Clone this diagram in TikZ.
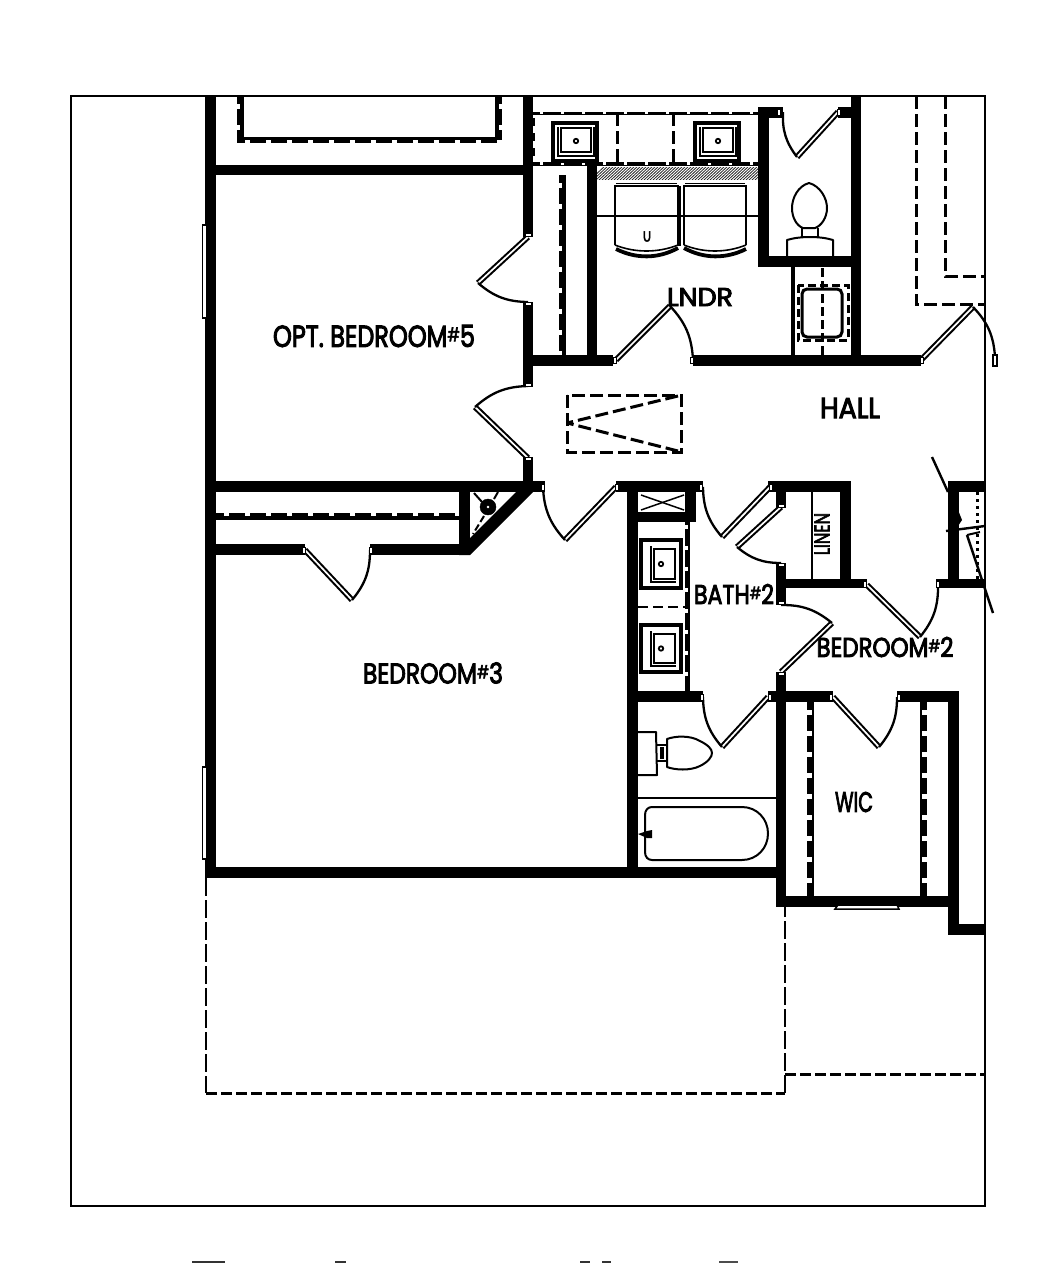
\documentclass[tikz,border=0pt]{standalone}
\usepackage{graphicx}
\usepackage{fontspec}
\setmainfont{Poppins}
\newfontfamily\cad[FakeBold=3.5]{Poppins}
\tikzset{
  x=1pt,y=-1pt,
  framestyle/.style={line width=2.8pt,draw=black},
  dashthin/.style={line width=2.2pt,dash pattern=on 18pt off 4pt,draw=black},
  dashwide/.style={line width=3pt,dash pattern=on 11pt off 4pt,draw=black},
  dashmid/.style={line width=3pt,dash pattern=on 13pt off 5pt,draw=black},
  fixture/.style={line width=2pt,draw=black,line join=round},
  label/.style={inner sep=0pt,outer sep=0pt,text=black}
}
\newcommand\wl[4]{\fill[black] (#1,#2) rectangle (#3,#4);}
\newcommand\jh[2]{\filldraw[fill=white,draw=black,line width=.6pt] (#1-1.3,#2-3) rectangle (#1+1.3,#2+3);}
\newcommand\jv[2]{\filldraw[fill=white,draw=black,line width=.6pt] (#1-3,#2-1.3) rectangle (#1+3,#2+1.3);}
% hinge, tip, end, bend
\newcommand\door[7]{%
  \draw[line width=5.8pt,black] (#1,#2)--(#3,#4);
  \draw[line width=1.7pt,white] (#1,#2)--(#3,#4);
  \draw[line width=2.3pt,black] (#3,#4) to[#7=20] (#5,#6);}
\newcommand\shelfv[6]{\fill[black] (#1,#3) rectangle (#2,#4);
  \draw[white,line width=#6pt,dash pattern=on 5pt off 16pt,dash phase=-8pt] (#5,#3)--(#5,#4);}
\newcommand\shelfh[6]{\fill[black] (#1,#3) rectangle (#2,#4);
  \draw[white,line width=#6pt,dash pattern=on 5pt off 16pt,dash phase=-8pt] (#1,#5)--(#2,#5);}
\newcommand\hsink[4]{%
  \draw[line width=3.6pt] (#1,#2) rectangle (#3,#4);
  \draw[line width=1.7pt] (#1+8,#2+5) rectangle (#3-6,#4-9);
  \draw[line width=1.4pt] (#1+5,#2+4)--(#1+5,#4-5)--(#3-3,#4-5)--(#3-3,#2+4);
  \filldraw[fill=white,draw=black,line width=1.8pt] ({(#1+#3)/2+1},{(#2+#4)/2-1}) circle (2.2);}
\newcommand\vsink[4]{%
  \draw[line width=3.6pt] (#1,#2) rectangle (#3,#4);
  \draw[line width=1.7pt] (#1+13,#2+9) rectangle (#3-6,#4-9);
  \draw[line width=1.4pt] (#1+10,#2+6)--(#1+10,#4-6)--(#3-5,#4-6);
  \filldraw[fill=white,draw=black,line width=1.8pt] ({(#1+#3)/2},{(#2+#4)/2}) circle (2.2);}
\newcommand\hash{\raisebox{.33ex}{\scalebox{.62}[.62]{\#}}}
\newcommand\lab[5]{\node[label] (#1) at (#2) {\resizebox{#3pt}{#4pt}{\cad #5}};}
\begin{document}
\begin{tikzpicture}
\useasboundingbox (0,0) rectangle (1043,1263);
\fill[white] (0,0) rectangle (1043,1263);
% outer dashed outlines
\draw[dashthin] (206,878)--(206,1093);
\draw[dashwide] (206,1093)--(785,1093);
\draw[dashthin] (785,1093)--(785,907);
\draw[dashwide] (785,1074)--(985,1074);
\draw[dashmid] (916,96)--(916,304)--(985,304);
\draw[dashmid] (945,96)--(945,276)--(985,276);
% main walls
\wl{205}{96}{216}{878}
\wl{205}{165}{533}{175}
\wl{523}{96}{533}{237}
\wl{523}{302}{533}{387}
\wl{523}{457}{533}{492}
\wl{205}{481}{545}{492}
\wl{205}{867}{776}{878}
\wl{216}{544}{305}{555}
\wl{370}{544}{470}{555}
\wl{459}{492}{470}{555}
\fill[black] (459,555)--(470,555)--(533,492)--(533,482)--(516,492)--(470,538)--cycle;
\wl{533}{355}{613}{366}
\wl{693}{355}{921}{366}
\wl{587}{165}{597}{366}
\wl{758}{107}{769}{267}
\wl{758}{107}{783}{118}
\wl{838}{107}{852}{118}
\wl{851}{96}{861}{366}
\wl{758}{256}{851}{267}
\wl{791}{267}{795}{355}
\wl{616}{481}{703}{492}
\wl{768}{481}{851}{492}
\wl{840}{481}{851}{588}
\wl{776}{492}{786}{508}
\wl{776}{563}{786}{605}
\wl{776}{579}{867}{588}
\wl{936}{579}{985}{588}
\wl{948}{481}{959}{579}
\wl{948}{481}{985}{492}
\wl{627}{481}{638}{878}
\wl{638}{512}{696}{522}
\wl{685}{492}{696}{522}
\wl{627}{691}{703}{702}
\wl{768}{691}{833}{702}
\wl{897}{691}{959}{702}
\wl{776}{672}{786}{907}
\wl{776}{896}{959}{907}
\wl{948}{691}{959}{935}
\wl{948}{924}{985}{935}
\wl{685}{522}{690}{691}
\draw[line width=2pt] (812,492)--(812,579);
\draw[line width=2pt] (638,798)--(776,798);
% hatch band
\wl{533}{162}{758}{166}
\begin{scope}
\clip (597,167) rectangle (758,179);
\foreach \i in {0,3,...,180} {\draw[line width=.8pt,black!85] (590+\i,180)--(606+\i,165);}
\end{scope}
% vanity top
\draw[line width=3pt,black] (533,113)--(758,113);
\draw[white,line width=3.4pt,dash pattern=on 3pt off 18pt] (540,112)--(758,112);
\draw[dashmid] (617,113)--(617,163);
\draw[dashmid] (673,113)--(673,163);
\draw[white,line width=3pt,dash pattern=on 3pt off 18pt] (540,163.5)--(758,163.5);
\draw[line width=2.5pt,dash pattern=on 8pt off 7pt,black] (534,118)--(534,160);
\hsink{553}{123}{597}{161}
\hsink{695}{123}{739}{161}
% closet shelves
\shelfv{559}{566}{175}{355}{560.5}{3.4}
\shelfv{807}{814}{702}{896}{809.5}{5}
\shelfv{920}{927}{702}{896}{924.5}{5}
\shelfh{216}{459}{513}{520}{514.5}{3.4}
\shelfv{237}{244}{96}{143}{238.5}{3.4}
\shelfv{495}{502}{96}{143}{500.5}{3.4}
\shelfh{237}{502}{137}{143}{141.5}{3}
% bath vanity
\draw[white,line width=3pt,dash pattern=on 4pt off 17pt] (686.5,525)--(686.5,690);
\draw[line width=2.2pt,dash pattern=on 10pt off 5pt,black] (638,607)--(686,607);
\vsink{641}{540}{681}{588}
\vsink{641}{625}{681}{672}
\draw[line width=1.5pt] (641,495)--(684,510);
\draw[line width=1.5pt] (641,510)--(684,495);
% water heater corner
\filldraw[black] (488,507) circle (8);
\filldraw[white] (488,507) circle (1);
\draw[line width=2pt] (474,493)--(482,502);
\draw[line width=2pt] (498,492)--(494,499);
\draw[line width=2pt,dash pattern=on 7pt off 3pt] (484,516)--(473,534);
% small rear closet
\draw[line width=3pt,dash pattern=on 3pt off 4pt] (977,492)--(977,579);
% hall loft stair
\draw[dashmid] (567,395) rectangle (681,452);
\draw[dashmid,line join=bevel] (678,396)--(567,423)--(678,451);
% washer and dryer
\draw[line width=2pt] (597,216)--(758,216);
\draw[line width=2.2pt] (615,245)--(615,186)--(678,186)--(678,245);
\draw[line width=1.4pt] (616,183.5)--(677,183.5);
\draw[line width=2.2pt] (684,245)--(684,186)--(746,186)--(746,245);
\draw[line width=1.4pt] (685,183.5)--(745,183.5);
\draw[line width=3pt] (679,186)--(679,246);
\draw[line width=1.6pt] (615,245) .. controls (635,253) and (658,253) .. (678,245);
\draw[line width=3.8pt] (616,249) .. controls (636,259) and (658,259) .. (678,248);
\draw[line width=1.6pt] (684,245) .. controls (704,253) and (726,253) .. (746,245);
\draw[line width=3.8pt] (684,248) .. controls (704,259) and (726,259) .. (746,249);
\node[label] (wm) at (647,236.5) {\resizebox{8pt}{10pt}{\cad U}};
% upper toilet
\draw[fixture] (809,183) .. controls (820,186) and (827,198) .. (827,208) .. controls (827,218) and (821,226) .. (815,228) -- (803,228) .. controls (797,226) and (792,218) .. (792,208) .. controls (792,198) and (798,186) .. (809,183) -- cycle;
\draw[fixture] (802,228)--(802,237);
\draw[fixture] (818,228)--(818,237);
\draw[fixture] (787,256)--(787,240) .. controls (800,236) and (820,236) .. (833,240) -- (833,256);
% lower toilet
\draw[fixture] (638,732)--(656,732)--(657,775)--(638,775);
\draw[fixture] (667,739) .. controls (675,736) and (690,735) .. (700,741) .. controls (708,745) and (712,749) .. (712,753) .. controls (712,757) and (708,762) .. (700,766) .. controls (690,771) and (675,770) .. (667,767) -- cycle;
\draw[fixture] (657,745)--(667,745);
\draw[fixture] (657,761)--(667,761);
\fill[black] (660,747) rectangle (664,759);
% tub
\draw[fixture] (652,807) -- (742,807) .. controls (757,807) and (768,819) .. (768,833.5) .. controls (768,848) and (757,860) .. (742,860) -- (652,860) .. controls (648,860) and (645,857) .. (645,852) -- (645,815) .. controls (645,810) and (648,807) .. (652,807) -- cycle;
\fill[black] (638,834)--(647,831)--(652,830)--(652,838)--(647,838)--cycle;
% WIC window
\filldraw[fill=white,draw=black,line width=1.5pt] (838,905)--(897,905)--(899,909)--(835,909)--cycle;
% chase
\draw[line width=3pt,dash pattern=on 8pt off 4pt] (798,285) rectangle (848,340);
\draw[line width=3pt,rounded corners=5pt] (802,289) rectangle (842,337);
\draw[line width=3pt,dash pattern=on 9pt off 4pt] (822,268)--(822,355);
% doors
\door{528}{237}{478}{283}{528}{302}{bend right}
\door{528}{458}{475}{407}{528}{386}{bend left}
\door{616}{360}{670}{306}{693}{360}{bend left}
\door{921}{360}{973}{307}{995}{357}{bend left}
\door{838}{112}{797}{157}{783}{112}{bend left}
\door{616}{487}{565}{540}{543}{487}{bend left}
\door{770}{487}{722}{537}{703}{487}{bend left}
\door{781}{507}{737}{547}{781}{563}{bend right}
\door{867}{585}{920}{637}{938}{585}{bend right}
\door{781}{672}{832}{623}{781}{605}{bend right}
\door{768}{697}{722}{747}{703}{697}{bend left}
\door{833}{697}{879}{747}{897}{697}{bend right}
\door{305}{550}{352}{600}{370}{550}{bend right}
% jambs
\jv{528}{235}\jv{528}{304}\jv{528}{385}\jv{528}{459}
\jh{543}{487}\jh{617}{487}\jh{701}{487}\jh{771}{487}
\jv{781}{506}\jv{781}{565}\jv{781}{603}\jv{781}{674}
\jh{865}{584}\jh{938}{584}
\jh{702}{697}\jh{770}{697}\jh{831}{697}\jh{899}{697}
\jh{304}{550}\jh{371}{550}
\jh{615}{360}\jh{692}{360}\jh{922}{360}
\jh{779}{112}\jh{839}{112}
\filldraw[fill=white,draw=black,line width=1.6pt] (993,355) rectangle (997,366);
% windows
\filldraw[fill=white,draw=black,line width=1.5pt] (202.5,225) rectangle (206.5,318);
\filldraw[fill=white,draw=black,line width=1.5pt] (202.5,767) rectangle (206.5,859);
% frame
\draw[framestyle] (71,96) rectangle (985,1206);
\draw[line width=1pt] (71,1206.5)--(985,1206.5);
% rear closet door lines
\draw[line width=2.4pt] (932,457)--(948,492);
\draw[line width=2.4pt] (946,531)--(985,526);
\draw[line width=2pt] (980,532)--(967,535);
\draw[line width=2.4pt] (967,535)--(993,613);
\fill[black] (958,510)--(962,520)--(958,526)--cycle;
% labels
\lab{bed5}{374,336}{202}{22}{OPT. BEDROOM\hash 5}
\lab{lndr}{700,297}{66}{18}{LNDR}
\lab{hall}{850,408}{60}{20}{HALL}
\lab{bed3}{433,673}{140}{21}{BEDROOM\hash 3}
\lab{bath2}{734,594}{80}{20}{BATH\hash 2}
\lab{bed2}{885,647}{137}{20}{BEDROOM\hash 2}
\lab{wic}{854,802}{38}{20}{WIC}
\node[label,rotate=90] (linen) at (822,534) {\resizebox{42pt}{15pt}{\cad LINEN}};
% cut-off letter tops at the page edge
\fill[black!80] (192,1261) rectangle (225,1263);
\fill[black!80] (335,1261) rectangle (346,1263);
\fill[black!80] (580,1261) rectangle (590,1263);
\fill[black!80] (602,1261) rectangle (611,1263);
\fill[black!70] (719,1261) rectangle (738,1263);
\end{tikzpicture}
\end{document}
